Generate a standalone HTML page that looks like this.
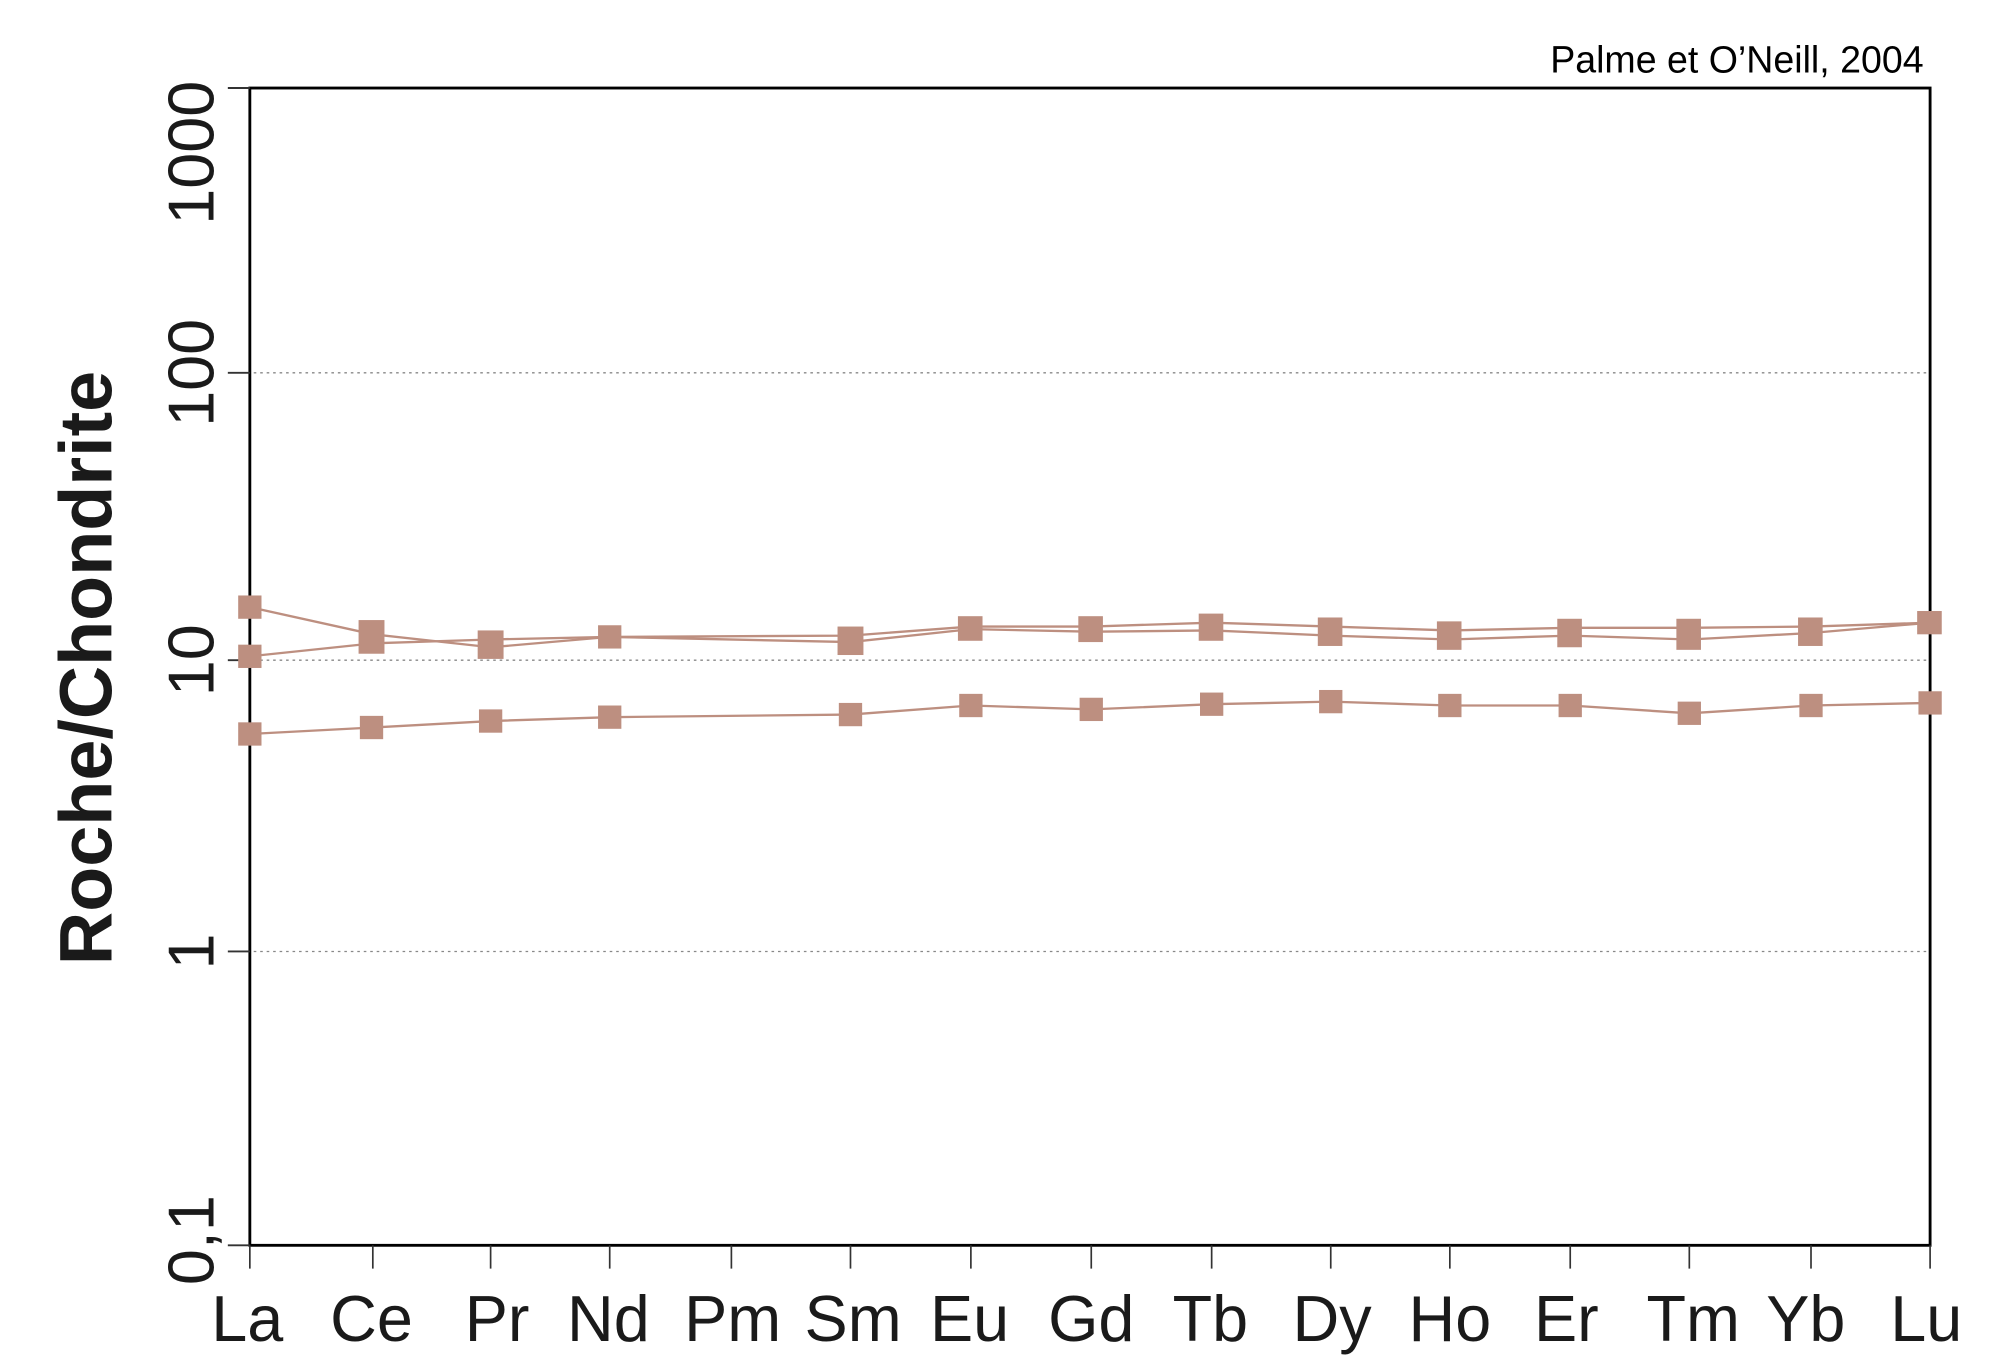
<!DOCTYPE html>
<html><head><meta charset="utf-8"><style>html,body{margin:0;padding:0;background:#fff}svg{display:block}</style></head>
<body>
<svg width="2000" height="1356" viewBox="0 0 1545 1047.5" xmlns="http://www.w3.org/2000/svg" font-family="Liberation Sans, Arial, sans-serif">
<rect width="1545" height="1048" fill="#fff"/>
<g stroke="#888" stroke-width="1" stroke-dasharray="2,3">
<line x1="196" y1="288" x2="1490" y2="288"/>
<line x1="196" y1="510" x2="1490" y2="510"/>
<line x1="196" y1="735" x2="1490" y2="735"/>
</g>
<rect x="193" y="68" width="1298" height="894" fill="none" stroke="#000" stroke-width="2.2"/>
<g stroke="#333" stroke-width="1.5">
<line x1="176" y1="68" x2="193" y2="68"/>
<line x1="176" y1="288" x2="193" y2="288"/>
<line x1="176" y1="510" x2="193" y2="510"/>
<line x1="176" y1="735" x2="193" y2="735"/>
<line x1="176" y1="962" x2="193" y2="962"/>
</g>
<g stroke="#333" stroke-width="1.3">
<line x1="193" y1="962" x2="193" y2="980"/><line x1="288" y1="962" x2="288" y2="980"/><line x1="379" y1="962" x2="379" y2="980"/><line x1="471" y1="962" x2="471" y2="980"/><line x1="565" y1="962" x2="565" y2="980"/><line x1="657" y1="962" x2="657" y2="980"/><line x1="750" y1="962" x2="750" y2="980"/><line x1="843" y1="962" x2="843" y2="980"/><line x1="936" y1="962" x2="936" y2="980"/><line x1="1028" y1="962" x2="1028" y2="980"/><line x1="1120" y1="962" x2="1120" y2="980"/><line x1="1213" y1="962" x2="1213" y2="980"/><line x1="1305" y1="962" x2="1305" y2="980"/><line x1="1399" y1="962" x2="1399" y2="980"/><line x1="1491" y1="962" x2="1491" y2="980"/>
</g>
<g font-size="50" fill="#1a1a1a" text-anchor="middle">
<text x="191" y="1036">La</text><text x="287" y="1036">Ce</text><text x="384" y="1036">Pr</text><text x="470" y="1036">Nd</text><text x="566" y="1036">Pm</text><text x="659" y="1036">Sm</text><text x="749" y="1036">Eu</text><text x="843" y="1036">Gd</text><text x="935" y="1036">Tb</text><text x="1029" y="1036">Dy</text><text x="1120" y="1036">Ho</text><text x="1210" y="1036">Er</text><text x="1308" y="1036">Tm</text><text x="1395" y="1036">Yb</text><text x="1488" y="1036">Lu</text>
</g>
<g font-size="50" fill="#1a1a1a" text-anchor="middle">
<text transform="translate(165,118) rotate(-90)">1000</text>
<text transform="translate(165,288) rotate(-90)">100</text>
<text transform="translate(165,510) rotate(-90)">10</text>
<text transform="translate(165,735) rotate(-90)">1</text>
<text transform="translate(165,958) rotate(-90)">0,1</text>
</g>
<text transform="translate(86,516) rotate(-90)" font-size="57" font-weight="bold" fill="#1a1a1a" text-anchor="middle">Roche/Chondrite</text>
<text x="1486" y="56" font-size="29" fill="#000" text-anchor="end">Palme et O’Neill, 2004</text>
<g fill="none" stroke="#bd8f80" stroke-width="1.8">
<polyline points="193,469 288,490 379,500 471,492 657,496 750,486 843,488 936,487 1028,491 1120,494 1213,491 1305,494 1399,489 1491,481"/>
<polyline points="193,507 288,497 379,494 471,492 657,491 750,484 843,484 936,481 1028,484 1120,487 1213,485 1305,485 1399,484 1491,481"/>
<polyline points="193,567 288,562 379,557 471,554 657,552 750,545 843,548 936,544 1028,542 1120,545 1213,545 1305,551 1399,545 1491,543"/>
</g>
<g fill="#bd8f80">
<rect x="184" y="460" width="18" height="18"/><rect x="184" y="498" width="18" height="18"/>
<rect x="277" y="479" width="20" height="26"/>
<rect x="369" y="487" width="20" height="22"/>
<rect x="462" y="483" width="18" height="18"/>
<rect x="647" y="484" width="20" height="22"/>
<rect x="740" y="476" width="19" height="19"/>
<rect x="833" y="476" width="19" height="20"/>
<rect x="926" y="474" width="19" height="21"/>
<rect x="1018" y="477" width="19" height="22"/>
<rect x="1110" y="480" width="19" height="22"/>
<rect x="1203" y="478" width="19" height="22"/>
<rect x="1295" y="478" width="19" height="24"/>
<rect x="1389" y="477" width="19" height="22"/>
<rect x="1481" y="472" width="19" height="18"/>
<rect x="184" y="558" width="18" height="18"/><rect x="278" y="553" width="18" height="18"/><rect x="370" y="548" width="18" height="18"/><rect x="462" y="545" width="18" height="18"/><rect x="648" y="543" width="18" height="18"/><rect x="741" y="536" width="18" height="18"/><rect x="834" y="539" width="18" height="18"/><rect x="927" y="535" width="18" height="18"/><rect x="1019" y="533" width="18" height="18"/><rect x="1111" y="536" width="18" height="18"/><rect x="1204" y="536" width="18" height="18"/><rect x="1296" y="542" width="18" height="18"/><rect x="1390" y="536" width="18" height="18"/><rect x="1482" y="534" width="18" height="18"/>
</g>
</svg>
</body></html>
